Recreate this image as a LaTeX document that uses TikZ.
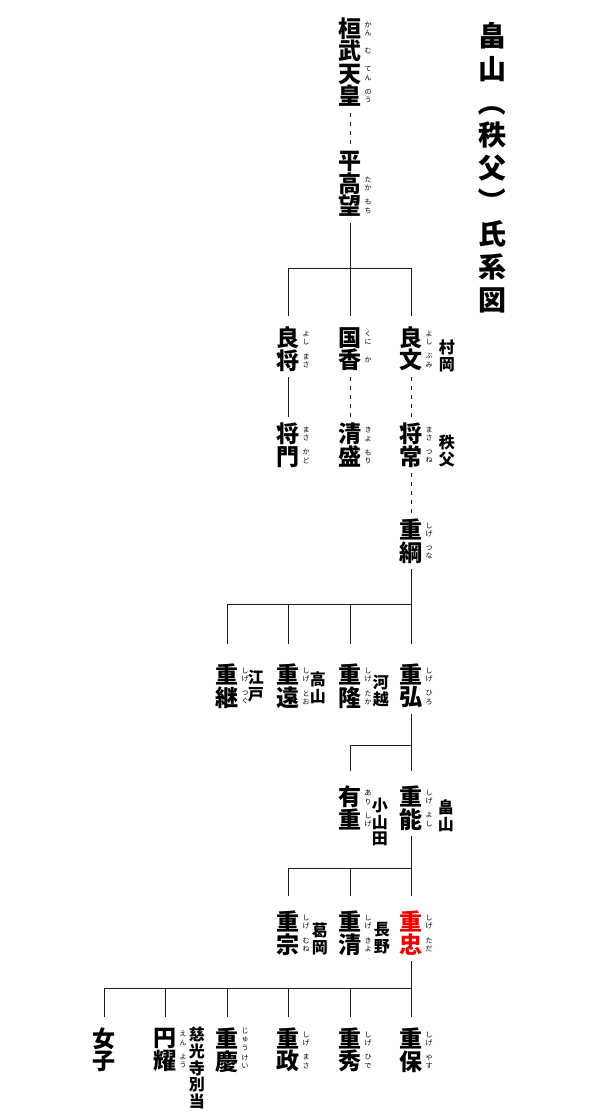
\documentclass[tikz,border=0pt]{standalone}
\usepackage{fontspec}
\setmainfont{Noto Sans CJK JP}
\usepackage{graphicx}
\usepackage{xcolor}
\usepackage{tikz}
\usetikzlibrary{positioning}
\definecolor{lineblack}{RGB}{30,30,30}
\definecolor{heirred}{RGB}{238,0,0}
\newcommand{\namefont}{\bfseries\fontsize{23}{22.5}\selectfont}
\newcommand{\placefont}{\bfseries\fontsize{16}{16.8}\selectfont}
\newcommand{\titlefont}{\bfseries\fontsize{28}{33}\selectfont}
\newcommand{\rubyfont}{\mdseries\fontsize{7}{8.4}\selectfont}
\makeatletter
\newcommand{\rb}[1]{\rlap{\kern3pt\raisebox{6.7pt}[0pt][0pt]{\rubyfont
  \color{black}$\vcenter{\baselineskip=8.4pt\lineskiplimit=-20pt
  \rb@stack#1\relax}$}}}
\def\rb@stack#1{\ifx\relax#1\else\hbox{#1}\expandafter\rb@stack\fi}
\makeatother
\newcommand{\vparen}[1]{\rotatebox[origin=c]{-90}{#1}}
\tikzset{
  person/.style={align=center,inner xsep=0pt,inner ysep=6pt,font=\namefont},
  heir/.style={person,text=heirred},
  place/.style={align=center,inner sep=0pt,font=\placefont},
  titlebox/.style={align=center,inner sep=0pt,font=\titlefont},
  link/.style={draw=lineblack,line width=0.9pt},
  unsure/.style={link,dash pattern=on 4pt off 5pt},
  dropgap/.style={shorten >=#1}
}

\begin{document}
\begin{tikzpicture}[x=1pt,y=-1pt]
  \useasboundingbox (0,0) rectangle (600,1120);
  \node[titlebox] (title) at (492,168)
    {畠\\山\\\vparen{（}\\秩\\父\\\vparen{）}\\氏\\系\\図};
  % early line
  \node[person] (kanmu) at (350,62) {桓\rb{かん}\\武\rb{む}\\天\rb{てん}\\皇\rb{のう}};
  \node[person] (takamochi) at (350,184) {平\\高\rb{たか}\\望\rb{もち}};
  \node[person] (yoshimasa) at (288,349) {良\rb{よし}\\将\rb{まさ}};
  \node[person] (kunika) at (350,349) {国\rb{くに}\\香\rb{か}};
  \node[person] (yoshifumi) at (411,349) {良\rb{よし}\\文\rb{ぶみ}};
  \node[place,right=16pt of yoshifumi,yshift=-7pt] (murooka) {村\\岡};
  \node[person] (masakado) at (288,445) {将\rb{まさ}\\門\rb{かど}};
  \node[person] (kiyomori) at (350,445) {清\rb{きよ}\\盛\rb{もり}};
  \node[person] (masatsune) at (411,445) {将\rb{まさ}\\常\rb{つね}};
  \node[place,right=16pt of masatsune,yshift=-6pt] (chichibu) {秩\\父};
  \node[person] (shigetsuna) at (411,541) {重\rb{しげ}\\綱\rb{つな}};
  % sons of shigetsuna
  \node[person] (shigetsugu) at (227,686) {重\rb{しげ}\\継\rb{つぐ}};
  \node[place,right=9pt of shigetsugu] (edo) {江\\戸};
  \node[person] (shigetoo) at (288,686) {重\rb{しげ}\\遠\rb{とお}};
  \node[place,right=10pt of shigetoo,yshift=-2pt] (takayama) {高\\山};
  \node[person] (shigetaka) at (350,686) {重\rb{しげ}\\隆\rb{たか}};
  \node[place,right=11pt of shigetaka,yshift=-5pt] (kawagoe) {河\\越};
  \node[person] (shigehiro) at (411,686) {重\rb{しげ}\\弘\rb{ひろ}};
  % sons of shigehiro
  \node[person] (arishige) at (350,808) {有\rb{あり}\\重\rb{しげ}};
  \node[place,right=10pt of arishige,yshift=-14pt] (oyamada) {小\\山\\田};
  \node[person] (shigeyoshi) at (411,808) {重\rb{しげ}\\能\rb{よし}};
  \node[place,right=15pt of shigeyoshi,yshift=-8pt] (hatakeyama) {畠\\山};
  % sons of shigeyoshi
  \node[person] (shigemune) at (288,933) {重\rb{しげ}\\宗\rb{むね}};
  \node[place,right=12pt of shigemune,yshift=-6pt] (kuzuoka) {葛\\岡};
  \node[person] (shigekiyo) at (350,933) {重\rb{しげ}\\清\rb{きよ}};
  \node[place,right=12pt of shigekiyo,yshift=-5pt] (nagano) {長\\野};
  \node[heir] (shigetada) at (411,933) {重\rb{しげ}\\忠\rb{ただ}};
  % children of shigetada
  \node[person] (nyoshi) at (104,1050) {女\\子};
  \node[person] (enyo) at (165,1050) {円\rb{えん}\\耀\rb{よう}};
  \node[place,right=12pt of enyo,yshift=-18pt] (jikoji) {慈\\光\\寺\\別\\当};
  \node[person] (jukei) at (227,1050) {重\rb{じゅう}\\慶\rb{けい}};
  \node[person] (shigemasa) at (288,1050) {重\rb{しげ}\\政\rb{まさ}};
  \node[person] (shigehide) at (350,1050) {重\rb{しげ}\\秀\rb{ひで}};
  \node[person] (shigeyasu) at (411,1050) {重\rb{しげ}\\保\rb{やす}};
  % junctions
  \coordinate (j1) at (350,268);
  \coordinate (j2) at (411,604);
  \coordinate (j3) at (411,745);
  \coordinate (j4) at (411,868);
  \coordinate (j5) at (411,988);
  % lines of descent
  \draw[unsure] (kanmu) -- (takamochi);
  \draw[link] (takamochi) -- (j1);
  \foreach \n in {yoshimasa,kunika,yoshifumi}
    \draw[link,dropgap=5pt] (j1) -| (\n.north);
  \draw[link] (yoshimasa) -- (masakado);
  \draw[unsure] (kunika) -- (kiyomori);
  \draw[unsure] (yoshifumi) -- (masatsune);
  \draw[unsure] (masatsune) -- (shigetsuna);
  \draw[link] (shigetsuna) -- (j2);
  \foreach \n in {shigetsugu,shigetoo,shigetaka,shigehiro}
    \draw[link,dropgap=14pt] (j2) -| (\n.north);
  \draw[link] (shigehiro) -- (j3);
  \foreach \n in {arishige,shigeyoshi}
    \draw[link,dropgap=9pt] (j3) -| (\n.north);
  \draw[link] (shigeyoshi) -- (j4);
  \foreach \n in {shigemune,shigekiyo,shigetada}
    \draw[link,dropgap=9pt] (j4) -| (\n.north);
  \draw[link] (shigetada) -- (j5);
  \foreach \n in {nyoshi,enyo,jukei,shigemasa,shigehide,shigeyasu}
    \draw[link,dropgap=5pt] (j5) -| (\n.north);
\end{tikzpicture}
\end{document}
